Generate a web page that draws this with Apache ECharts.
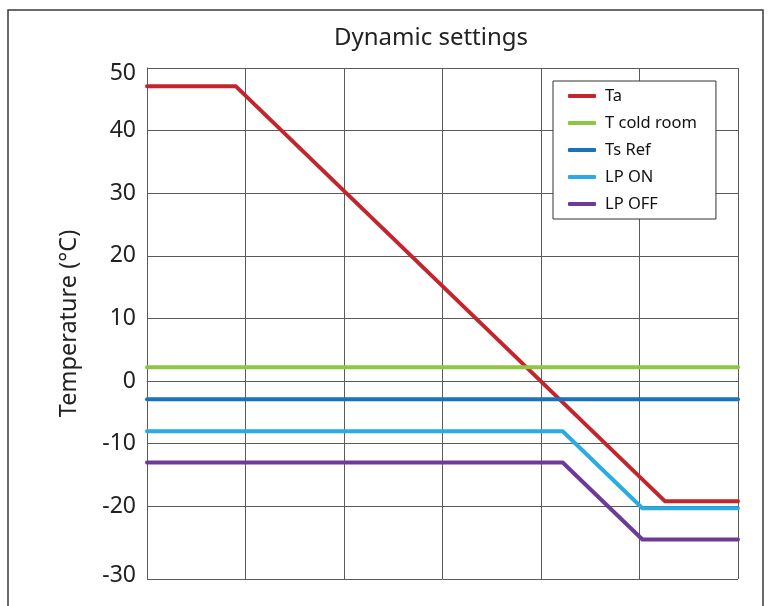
<!DOCTYPE html>
<html>
<head>
<meta charset="utf-8">
<script src="https://cdn.jsdelivr.net/npm/echarts@6/dist/echarts.min.js"></script>
<style>html,body{margin:0;padding:0;background:#fff}#c{width:772px;height:606px}</style>
</head>
<body>
<div id="c"></div>
<script>
// ---- data ----
const seriesNames = ['Ta', 'T cold room', 'Ts Ref', 'LP ON', 'LP OFF'];
const taTime = [0, 0.9, 5.26, 6];
const taValues = [47.1, 47.1, -19.2, -19.2];
const coldRoomTime = [0, 6];
const coldRoomValues = [2.2, 2.2];
const tsRefTime = [0, 6];
const tsRefValues = [-2.9, -2.9];
const lpOnTime = [0, 4.22, 5.03, 6];
const lpOnValues = [-8, -8, -20.3, -20.3];
const lpOffTime = [0, 4.22, 5.03, 6];
const lpOffValues = [-13, -13, -25.3, -25.3];
const yAxisMin = -31.6;
const yAxisMax = 50;
const yTickValues = [50, 40, 30, 20, 10, 0, -10, -20, yAxisMin];
const yTickLabels = ['50', '40', '30', '20', '10', '0', '-10', '-20', '-30'];
const xMin = 0, xMax = 6;

const colors = ['#c4252d', '#8dc643', '#1a72ba', '#2aabe3', '#6e3a97'];
const FONT = 'Noto Sans';

function pairs(t, v) { return t.map((x, i) => [x, v[i]]); }
const seriesData = [
  pairs(taTime, taValues),
  pairs(coldRoomTime, coldRoomValues),
  pairs(tsRefTime, tsRefValues),
  pairs(lpOnTime, lpOnValues),
  pairs(lpOffTime, lpOffValues)
];

const chart = echarts.init(document.getElementById('c'), null, {renderer: 'canvas'});
const gridColor = '#5a5a5a';
chart.setOption({
  animation: false,
  backgroundColor: '#fff',
  title: {
    text: 'Dynamic settings',
    left: 426, top: 21, textAlign: 'center',
    textStyle: {fontFamily: FONT, fontSize: 24, fontWeight: 'normal', color: '#222'}
  },
  graphic: [{
    type: 'rect', silent: true, z: -1,
    shape: {x: 8, y: 10, width: 755, height: 640},
    style: {fill: 'none', stroke: '#3a3a3a', lineWidth: 1.5}
  }],
  legend: {
    orient: 'vertical',
    left: 553, top: 81,
    padding: [5, 19, 5, 15],
    itemGap: 7,
    itemWidth: 28, itemHeight: 4,
    icon: 'roundRect',
    backgroundColor: '#fff',
    borderColor: '#333', borderWidth: 1, borderRadius: 0,
    textStyle: {fontFamily: FONT, fontSize: 16.5, color: '#111', lineHeight: 20, padding: [0, 0, 0, 4]},
    data: seriesNames
  },
  grid: {left: 147, top: 68, right: 34, bottom: 27, containLabel: false},
  xAxis: {
    type: 'value', min: xMin, max: xMax, interval: 1,
    axisLine: {show: true, lineStyle: {color: gridColor, width: 1}},
    axisTick: {show: false},
    axisLabel: {show: false},
    splitLine: {show: true, lineStyle: {color: gridColor, width: 1}}
  },
  yAxis: {
    type: 'value', min: yAxisMin, max: yAxisMax,
    name: 'Temperature (°C)',
    nameLocation: 'middle', nameGap: 66, nameRotate: 90,
    nameTextStyle: {fontFamily: FONT, fontSize: 23.5, color: '#222'},
    axisLine: {show: true, lineStyle: {color: gridColor, width: 1}},
    axisTick: {show: false, customValues: yTickValues},
    axisLabel: {
      show: true, customValues: yTickValues, margin: 11,
      fontFamily: FONT, fontSize: 23, color: '#222',
      formatter: function (v) {
        const i = yTickValues.indexOf(v);
        if (i === 0) return '{top|' + yTickLabels[i] + '}';
        if (i === yTickValues.length - 1) return '{bot|' + yTickLabels[i] + '}';
        return i >= 0 ? yTickLabels[i] : '';
      },
      rich: {
        top: {fontFamily: FONT, fontSize: 23, color: '#222', padding: [10, 0, 0, 0]},
        bot: {fontFamily: FONT, fontSize: 23, color: '#222', padding: [0, 0, 7, 0]}
      }
    },
    splitLine: {show: true, lineStyle: {color: gridColor, width: 1}}
  },
  series: seriesNames.map((n, i) => ({
    name: n, type: 'line', data: seriesData[i],
    showSymbol: false, symbol: 'none',
    color: colors[i],
    lineStyle: {width: 4, color: colors[i], join: 'round', cap: 'round'},
    z: 3 + i
  }))
});
</script>
</body>
</html>
